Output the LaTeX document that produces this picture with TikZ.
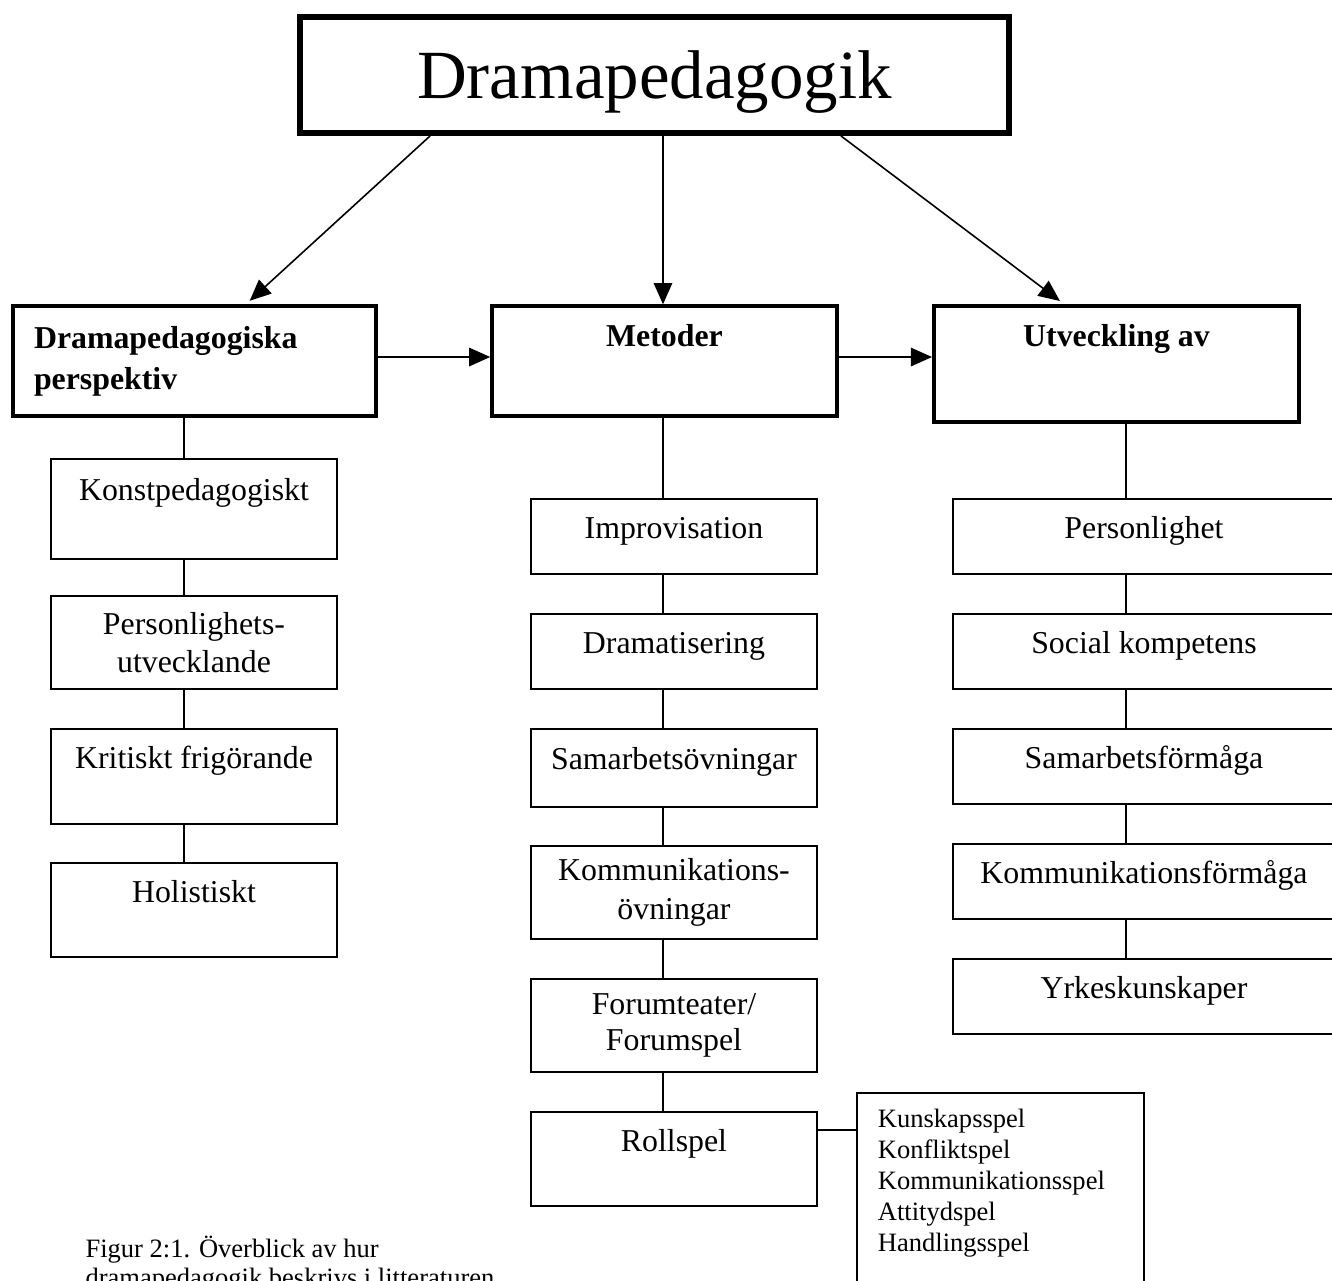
\documentclass[tikz,border=0pt]{standalone}
\usepackage{fontspec}
\setmainfont{Liberation Serif}
\usetikzlibrary{arrows.meta}
\definecolor{Ink}{HTML}{000000}

\begin{document}
\begin{tikzpicture}[
  x=0.377pt, y=-0.377pt,
  font=\fontsize{12pt}{13.8pt}\selectfont,
  box/.style={draw=Ink, line width=0.75pt, fill=white, align=center, minimum width=107.8pt, minimum height=28.3pt},
  flat/.style={box, text height=9pt, text depth=7.5pt},
  tall/.style={box, minimum height=35.4pt, text height=9pt, text depth=14.8pt},
  twoline/.style={box, minimum height=35.1pt},
  wide/.style={flat, minimum width=144pt},
  head/.style={draw=Ink, line width=1.3pt, fill=white, minimum height=41.5pt, font=\fontsize{12pt}{15.5pt}\selectfont\bfseries},
  arrow/.style={-{Triangle[length=8pt,width=7pt]}, line width=0.6pt, draw=Ink},
  link/.style={line width=0.6pt, draw=Ink}
]
\useasboundingbox (0,0) rectangle (1332,1281);
\clip (0,0) rectangle (1332,1281);

\node[draw=Ink, line width=2.25pt, minimum width=267.3pt, minimum height=43.7pt, text height=18pt, text depth=0pt, font=\fontsize{26pt}{30pt}\selectfont] (title) at (654.5,75) {Dramapedagogik};

\node[head, align=left, minimum width=136.9pt, text width=121pt] (persp) at (194.5,361) {Dramapedagogiska\\perspektiv};
\node[head, text height=9pt, text depth=20.2pt, minimum width=130.1pt] (metod) at (664.5,361) {Metoder};
\node[head, line width=1.5pt, text height=9pt, text depth=22.4pt, minimum width=137.6pt, minimum height=43.7pt] (utv) at (1116.5,364) {Utveckling av};

% perspektiv
\node[tall, minimum height=37.7pt, text depth=15.1pt] (konst) at (194,509) {Konstpedagogiskt};
\node[twoline, font=\fontsize{12pt}{14.5pt}\selectfont] (perso) at (194,642.5) {Personlighets-\\utvecklande};
\node[tall, minimum height=35.8pt] (krit) at (194,776.5) {Kritiskt frigörande};
\node[tall] (holi) at (194,910) {Holistiskt};

% metoder
\node[flat] (impro) at (674,536.5) {Improvisation};
\node[flat] (drama) at (674,651.5) {Dramatisering};
\node[flat, minimum height=29.4pt, text depth=8.2pt] (samov) at (674,768) {Samarbetsövningar};
\node[twoline, font=\fontsize{12pt}{14.5pt}\selectfont] (komov) at (674,892.5) {Kommunikations-\\övningar};
\node[twoline] (forum) at (674,1025.5) {Forumteater/\\Forumspel};
\node[tall] (roll) at (674,1159) {Rollspel};

% utveckling
\node[wide] (perl) at (1144,536.5) {Personlighet};
\node[wide] (social) at (1144,651.5) {Social kompetens};
\node[wide] (samf) at (1144,766.5) {Samarbetsförmåga};
\node[wide] (komf) at (1144,881.5) {Kommunikationsförmåga};
\node[wide] (yrke) at (1144,996.5) {Yrkeskunskaper};

\node[draw=Ink, line width=0.75pt, anchor=north west, align=left, text width=92.5pt, inner xsep=7.9pt, inner ysep=6pt, font=\fontsize{10pt}{11.7pt}\selectfont] (spel) at (856,1092) {Kunskapsspel\\Konfliktspel\\Kommunikationsspel\\Attitydspel\\Handlingsspel\\\strut\\\strut};

\node[anchor=north west, align=left, inner sep=0pt, font=\fontsize{10pt}{11.3pt}\selectfont] (caption) at (85,1235) {Figur 2:1. Överblick av hur\\dramapedagogik beskrivs i litteraturen};

\coordinate (lspine) at (184,0);
\coordinate (mspine) at (663,0);
\coordinate (rspine) at (1126,0);

\draw[arrow, shorten >=1.9pt] ([xshift=-84.6pt]title.south) -- ([xshift=19.4pt]persp.north);
\draw[arrow] (title.south -| mspine) -- (metod.north -| mspine);
\draw[arrow, shorten >=1.9pt] ([xshift=70.3pt]title.south) -- ([xshift=-19.8pt]utv.north);
\draw[arrow] ([yshift=1.5pt]persp.east) -- ([yshift=1.5pt]persp.east -| metod.west);
\draw[arrow] ([yshift=1.5pt]metod.east) -- ([yshift=1.5pt]metod.east -| utv.west);

\draw[link] (persp.south -| lspine) -- (konst.north -| lspine);
\draw[link] (konst.south -| lspine) -- (perso.north -| lspine);
\draw[link] (perso.south -| lspine) -- (krit.north -| lspine);
\draw[link] (krit.south -| lspine) -- (holi.north -| lspine);

\draw[link] (metod.south -| mspine) -- (impro.north -| mspine);
\draw[link] (impro.south -| mspine) -- (drama.north -| mspine);
\draw[link] (drama.south -| mspine) -- (samov.north -| mspine);
\draw[link] (samov.south -| mspine) -- (komov.north -| mspine);
\draw[link] (komov.south -| mspine) -- (forum.north -| mspine);
\draw[link] (forum.south -| mspine) -- (roll.north -| mspine);

\draw[link] (utv.south -| rspine) -- (perl.north -| rspine);
\draw[link] (perl.south -| rspine) -- (social.north -| rspine);
\draw[link] (social.south -| rspine) -- (samf.north -| rspine);
\draw[link] (samf.south -| rspine) -- (komf.north -| rspine);
\draw[link] (komf.south -| rspine) -- (yrke.north -| rspine);

\draw[link] ([yshift=10.9pt]roll.east) -- ([yshift=10.9pt]roll.east -| spel.west);
\end{tikzpicture}
\end{document}
